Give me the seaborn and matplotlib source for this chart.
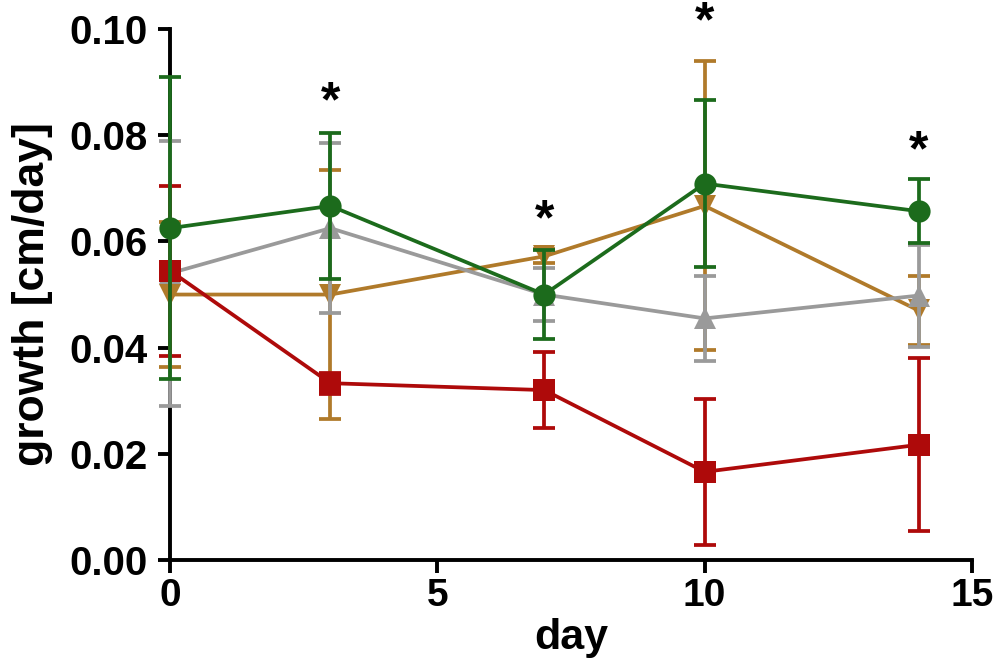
import numpy as np
import pandas as pd
import matplotlib
matplotlib.use('Agg')
import matplotlib.pyplot as plt
import seaborn as sns

# valeurs
days = [0, 3, 7, 10, 14]

gold_mean = [0.0500, 0.0500, 0.0572, 0.0667, 0.0470]
gold_err = [0.0137, 0.0235, 0.0013, 0.0272, 0.0065]

gray_mean = [0.0540, 0.0625, 0.0500, 0.0455, 0.0498]
gray_err = [0.0250, 0.0160, 0.0050, 0.0080, 0.0096]

red_mean = [0.0545, 0.0333, 0.0320, 0.0166, 0.0217]
red_err = [0.0160, 0.0020, 0.0072, 0.0137, 0.0163]

green_mean = [0.0625, 0.0667, 0.0500, 0.0709, 0.0657]
green_err = [0.0284, 0.0138, 0.0084, 0.0157, 0.0060]

star_days = [3, 7, 10, 14]
star_y = [0.0860, 0.0638, 0.1010, 0.0768]

groups = ['gold', 'gray', 'red', 'green']
colors = {'gold': '#b07a2a', 'gray': '#9a9a9a', 'red': '#ae0a0a', 'green': '#1c6b1c'}
marks = {'gold': 'v', 'gray': '^', 'red': 's', 'green': 'o'}
means = {'gold': gold_mean, 'gray': gray_mean, 'red': red_mean, 'green': green_mean}
errs = {'gold': gold_err, 'gray': gray_err, 'red': red_err, 'green': green_err}

sns.set_style('ticks')
plt.rcParams['font.family'] = ['Liberation Sans', 'DejaVu Sans']
plt.rcParams['font.weight'] = 'bold'
for k in ['text.color', 'axes.labelcolor', 'xtick.color', 'ytick.color', 'axes.edgecolor']:
    plt.rcParams[k] = 'black'

fig = plt.figure(figsize=(10, 6.72), dpi=100)
ax = fig.add_axes([0.17, 0.1667, 0.802, 0.79])

for i, g in enumerate(groups):
    df = pd.DataFrame({'day': days, 'growth': means[g]})
    z = 3 + i
    ax.errorbar(days, means[g], yerr=errs[g], fmt='none', ecolor=colors[g],
                elinewidth=2.7, capsize=8, capthick=2.7, zorder=z, clip_on=False)
    sns.lineplot(data=df, x='day', y='growth', color=colors[g], marker=marks[g],
                 markersize=16, markeredgewidth=0, linewidth=2.7, ax=ax,
                 zorder=z + 0.5, clip_on=False)

for d, y in zip(star_days, star_y):
    ax.text(d, y, '*', ha='center', va='center', fontsize=36, fontweight='bold',
            color='black', clip_on=False)

ax.set_xlim(0, 15)
ax.set_ylim(0, 0.10)
ax.set_xticks([0, 5, 10, 15])
ax.set_yticks(np.arange(0, 0.101, 0.02))
ax.set_yticklabels([f'{v:.2f}' for v in np.arange(0, 0.101, 0.02)])
ax.set_xlabel('day', fontsize=31, fontweight='bold', labelpad=3)
ax.set_ylabel('growth [cm/day]', fontsize=32, fontweight='bold', labelpad=12)
ax.tick_params(axis='y', labelsize=29, width=2.8, length=9, direction='out', pad=7)
ax.tick_params(axis='x', labelsize=28, width=2.8, length=9, direction='out', pad=4)
for lab in ax.get_xticklabels() + ax.get_yticklabels():
    lab.set_fontweight('bold')
for s in ['left', 'bottom']:
    ax.spines[s].set_linewidth(2.8)
sns.despine(ax=ax)

plt.savefig('out.png', dpi=100)
